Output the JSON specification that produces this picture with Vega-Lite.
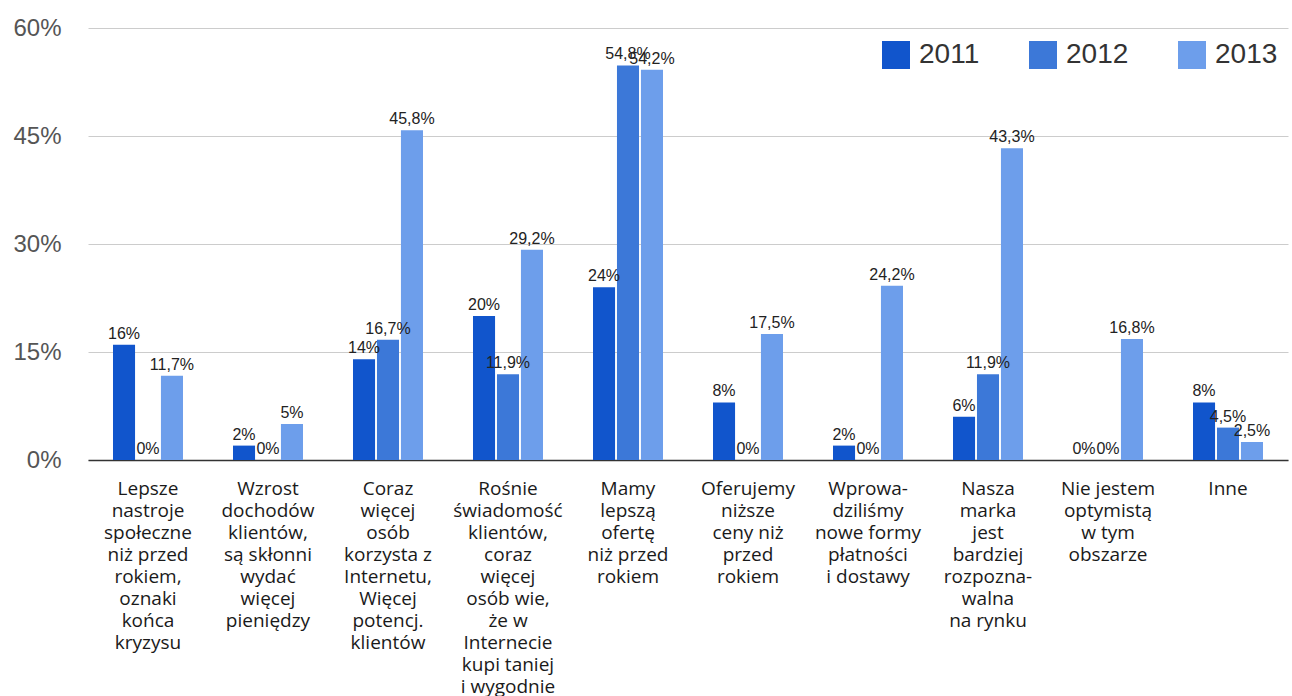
{
  "$schema": "https://vega.github.io/schema/vega-lite/v6.json",
  "autosize": "none",
  "width": 1200,
  "height": 432,
  "padding": {"left": 88, "top": 28, "right": 4, "bottom": 236},
  "background": "white",
  "config": {"view": {"stroke": null}},
  "data": {
    "values": [
      {"cat": "Lepsze|nastroje|społeczne|niż przed|rokiem,|oznaki|końca|kryzysu", "year": "2011", "value": 16, "label": "16%"},
      {"cat": "Lepsze|nastroje|społeczne|niż przed|rokiem,|oznaki|końca|kryzysu", "year": "2012", "value": 0, "label": "0%"},
      {"cat": "Lepsze|nastroje|społeczne|niż przed|rokiem,|oznaki|końca|kryzysu", "year": "2013", "value": 11.7, "label": "11,7%"},
      {"cat": "Wzrost|dochodów|klientów,|są skłonni|wydać|więcej|pieniędzy", "year": "2011", "value": 2, "label": "2%"},
      {"cat": "Wzrost|dochodów|klientów,|są skłonni|wydać|więcej|pieniędzy", "year": "2012", "value": 0, "label": "0%"},
      {"cat": "Wzrost|dochodów|klientów,|są skłonni|wydać|więcej|pieniędzy", "year": "2013", "value": 5, "label": "5%"},
      {"cat": "Coraz|więcej|osób|korzysta z|Internetu,|Więcej|potencj.|klientów", "year": "2011", "value": 14, "label": "14%"},
      {"cat": "Coraz|więcej|osób|korzysta z|Internetu,|Więcej|potencj.|klientów", "year": "2012", "value": 16.7, "label": "16,7%"},
      {"cat": "Coraz|więcej|osób|korzysta z|Internetu,|Więcej|potencj.|klientów", "year": "2013", "value": 45.8, "label": "45,8%"},
      {"cat": "Rośnie|świadomość|klientów,|coraz|więcej|osób wie,|że w|Internecie|kupi taniej|i wygodnie", "year": "2011", "value": 20, "label": "20%"},
      {"cat": "Rośnie|świadomość|klientów,|coraz|więcej|osób wie,|że w|Internecie|kupi taniej|i wygodnie", "year": "2012", "value": 11.9, "label": "11,9%"},
      {"cat": "Rośnie|świadomość|klientów,|coraz|więcej|osób wie,|że w|Internecie|kupi taniej|i wygodnie", "year": "2013", "value": 29.2, "label": "29,2%"},
      {"cat": "Mamy|lepszą|ofertę|niż przed|rokiem", "year": "2011", "value": 24, "label": "24%"},
      {"cat": "Mamy|lepszą|ofertę|niż przed|rokiem", "year": "2012", "value": 54.8, "label": "54,8%"},
      {"cat": "Mamy|lepszą|ofertę|niż przed|rokiem", "year": "2013", "value": 54.2, "label": "54,2%"},
      {"cat": "Oferujemy|niższe|ceny niż|przed|rokiem", "year": "2011", "value": 8, "label": "8%"},
      {"cat": "Oferujemy|niższe|ceny niż|przed|rokiem", "year": "2012", "value": 0, "label": "0%"},
      {"cat": "Oferujemy|niższe|ceny niż|przed|rokiem", "year": "2013", "value": 17.5, "label": "17,5%"},
      {"cat": "Wprowa-|dziliśmy|nowe formy|płatności|i dostawy", "year": "2011", "value": 2, "label": "2%"},
      {"cat": "Wprowa-|dziliśmy|nowe formy|płatności|i dostawy", "year": "2012", "value": 0, "label": "0%"},
      {"cat": "Wprowa-|dziliśmy|nowe formy|płatności|i dostawy", "year": "2013", "value": 24.2, "label": "24,2%"},
      {"cat": "Nasza|marka|jest|bardziej|rozpozna-|walna|na rynku", "year": "2011", "value": 6, "label": "6%"},
      {"cat": "Nasza|marka|jest|bardziej|rozpozna-|walna|na rynku", "year": "2012", "value": 11.9, "label": "11,9%"},
      {"cat": "Nasza|marka|jest|bardziej|rozpozna-|walna|na rynku", "year": "2013", "value": 43.3, "label": "43,3%"},
      {"cat": "Nie jestem|optymistą|w tym|obszarze", "year": "2011", "value": 0, "label": "0%"},
      {"cat": "Nie jestem|optymistą|w tym|obszarze", "year": "2012", "value": 0, "label": "0%"},
      {"cat": "Nie jestem|optymistą|w tym|obszarze", "year": "2013", "value": 16.8, "label": "16,8%"},
      {"cat": "Inne", "year": "2011", "value": 8, "label": "8%"},
      {"cat": "Inne", "year": "2012", "value": 4.5, "label": "4,5%"},
      {"cat": "Inne", "year": "2013", "value": 2.5, "label": "2,5%"}
    ]
  },
  "encoding": {
    "x": {
      "field": "cat",
      "type": "nominal",
      "sort": null,
      "scale": {"paddingInner": 0.4167, "paddingOuter": 0.2083},
      "axis": {
        "title": null,
        "labelAngle": 0,
        "labelExpr": "split(datum.label, '|')",
        "labelFont": "Open Sans",
        "labelFontSize": 19,
        "labelLineHeight": 22,
        "labelColor": "#1a1a1a",
        "labelPadding": 19,
        "labelLimit": 200,
        "ticks": false,
        "domainColor": "#333",
        "domainWidth": 1.5,
        "grid": false
      }
    },
    "xOffset": {"field": "year", "type": "nominal", "scale": {"paddingInner": 0.08}},
    "y": {
      "field": "value",
      "type": "quantitative",
      "scale": {"domain": [0, 60]},
      "axis": {
        "title": null,
        "values": [0, 15, 30, 45, 60],
        "labelExpr": "datum.value + '%'",
        "labelFont": "Liberation Sans",
        "labelFontSize": 24,
        "labelColor": "#555",
        "labelPadding": 27,
        "ticks": false,
        "domain": false,
        "gridColor": "#ccc",
        "gridWidth": 1
      }
    }
  },
  "layer": [
    {
      "mark": {"type": "bar"},
      "encoding": {
        "color": {
          "field": "year",
          "type": "nominal",
          "scale": {"domain": ["2011", "2012", "2013"], "range": ["#1155cc", "#3c78d8", "#6d9eeb"]},
          "legend": {
            "title": null,
            "orient": "none",
            "legendX": 794,
            "legendY": 13,
            "direction": "horizontal",
            "columns": 3,
            "symbolType": "square",
            "symbolSize": 784,
            "symbolStrokeWidth": 0,
            "symbolOpacity": 1,
            "labelFont": "Liberation Sans",
            "labelFontSize": 28,
            "labelColor": "#333",
            "labelOffset": 9,
            "columnPadding": 49
          }
        }
      }
    },
    {
      "mark": {"type": "text", "baseline": "alphabetic", "dy": -6, "font": "Liberation Sans", "fontSize": 16, "color": "#222"},
      "encoding": {"text": {"field": "label"}}
    }
  ]
}
